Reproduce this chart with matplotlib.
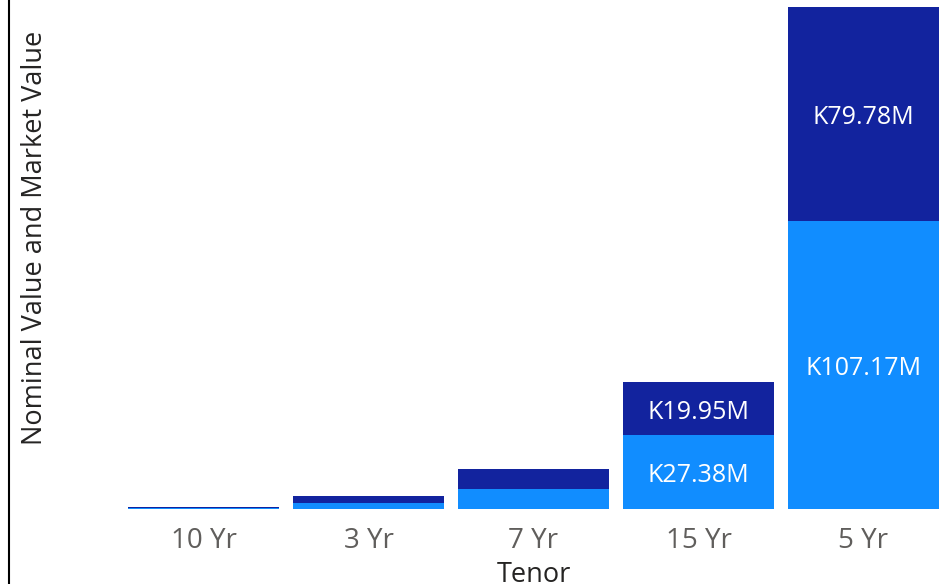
import numpy as np
import matplotlib.pyplot as plt
from matplotlib.lines import Line2D

# tenor buckets, as ordered on the axis
tenors = ["10 Yr", "3 Yr", "7 Yr", "15 Yr", "5 Yr"]
# values in millions (K = kwacha)
nominal_value = [0.4, 2.2, 7.3, 27.38, 107.17]
market_value = [0.25, 2.6, 7.5, 19.95, 79.78]

light_blue = "#118DFF"
dark_blue = "#12239E"

plt.rcParams["font.family"] = ["Open Sans", "DejaVu Sans"]

fig = plt.figure(figsize=(9.41, 5.84), dpi=100)
W, H = 941, 584
ax = fig.add_axes([121 / W, (584 - 509) / H, 825 / W, 509 / H])

x = np.arange(len(tenors))
bw = 151 / 165
b1 = ax.bar(x, nominal_value, width=bw, color=light_blue)
b2 = ax.bar(x, market_value, width=bw, bottom=nominal_value, color=dark_blue)

# data labels only where the segment is tall enough
for bars, vals, bottoms in [(b1, nominal_value, [0] * 5), (b2, market_value, nominal_value)]:
    for rect, v, b in zip(bars, vals, bottoms):
        if v > 10:
            ax.annotate(f"K{v:.2f}M", (rect.get_x() + rect.get_width() / 2, b + v / 2),
                        xytext=(0, -2.5), textcoords="offset points",
                        ha="center", va="center", color="white", fontsize=18)

ax.set_xlim(-0.5, 4.5)
ax.set_ylim(0, 189.5)
ax.set_xticks(x)
ax.set_xticklabels(tenors, fontsize=20, color="#605E5C")
ax.tick_params(axis="x", length=0, pad=13)
ax.set_yticks([])
for s in ax.spines.values():
    s.set_visible(False)

ax.set_xlabel("Tenor", fontsize=19.5, color="#252423", labelpad=4)
fig.text(35 / W, 1 - 238 / H, "Nominal Value and Market Value", rotation=90,
         ha="center", va="center", fontsize=19.5, color="#252423")

# left border line
fig.add_artist(Line2D([8.5 / W, 8.5 / W], [0, 1], color="black", linewidth=1.5,
                      transform=fig.transFigure))

fig.savefig("out.png", dpi=100)
